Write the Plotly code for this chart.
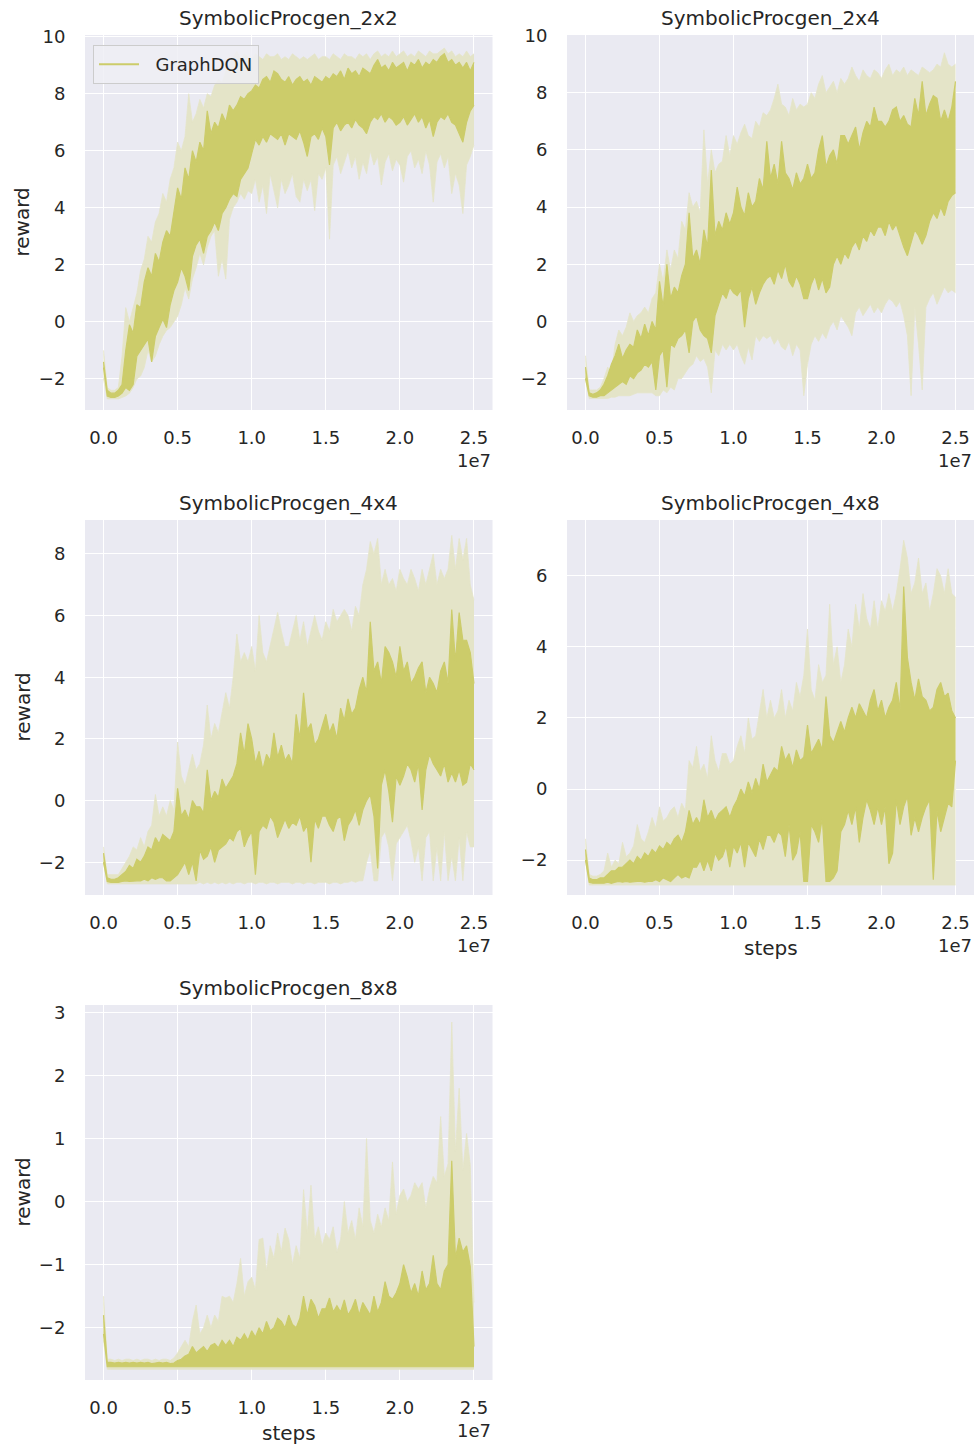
import plotly.graph_objects as go

# ---------------- data ----------------
# x sample grid: every 0.025e7 steps from 0 to 2.5e7
STEPS = [i * 250_000 for i in range(101)]

TITLES = ["SymbolicProcgen_2x2", "SymbolicProcgen_2x4", "SymbolicProcgen_4x4",
          "SymbolicProcgen_4x8", "SymbolicProcgen_8x8"]
SERIES_NAME = "GraphDQN"
X_TICKS = [0, 5e6, 1e7, 1.5e7, 2e7, 2.5e7]
X_TICKTEXT = ["0.0", "0.5", "1.0", "1.5", "2.0", "2.5"]
Y_TICKS = [[-2, 0, 2, 4, 6, 8, 10], [-2, 0, 2, 4, 6, 8, 10], [-2, 0, 2, 4, 6, 8],
           [-2, 0, 2, 4, 6], [-2, -1, 0, 1, 2, 3]]

# ---- SymbolicProcgen_2x2 ----
mean_hi_2x2 = [-1.4, -2.4, -2.5, -2.5, -2.4, -2.2, -1.0, -0.1, -0.4, 0.6,
               0.5, 1.4, 1.9, 1.6, 2.4, 2.1, 2.8, 3.2, 3.0, 3.9,
               4.7, 4.3, 5.4, 5.0, 6.0, 5.6, 6.3, 6.0, 7.4, 6.6,
               7.0, 6.8, 7.3, 7.0, 7.6, 7.4, 7.6, 7.9, 7.8, 8.0,
               8.1, 8.3, 8.2, 8.5, 8.6, 8.4, 8.8, 8.7, 8.5, 8.4,
               8.6, 8.3, 8.5, 8.6, 8.4, 8.5, 8.3, 8.6, 8.5, 8.4,
               8.6, 8.5, 8.7, 8.6, 8.8, 8.5, 8.9, 8.7, 8.8, 8.6,
               8.9, 8.8, 8.7, 9.0, 9.2, 8.9, 9.0, 8.8, 9.1, 8.9,
               9.0, 9.1, 8.8, 9.1, 9.0, 9.2, 8.9, 9.1, 9.0, 9.2,
               9.1, 9.3, 9.4, 9.1, 9.2, 9.0, 9.1, 8.9, 9.1, 8.8, 9.1]
mean_lo_2x2 = [-1.6, -2.6, -2.65, -2.65, -2.6, -2.5, -2.3, -2.4, -2.2, -1.2,
               -1.0, -0.8, -0.6, -1.4, -0.5, -0.2, 0.1, -0.2, 0.6, 1.1,
               1.4, 1.9, 1.6, 1.1, 2.3, 2.7, 2.9, 2.4, 3.0, 3.2,
               3.5, 3.2, 3.8, 4.0, 4.3, 4.5, 4.4, 5.0, 5.2, 5.4,
               5.9, 6.4, 6.2, 6.5, 6.3, 6.6, 6.5, 6.4, 6.6, 6.2,
               6.6, 6.5, 6.4, 6.7, 6.3, 5.8, 6.5, 6.6, 6.4, 6.8,
               6.5, 5.5, 6.8, 7.0, 6.7, 6.9, 7.0, 6.8, 7.1, 6.9,
               6.8, 6.6, 7.0, 7.2, 7.1, 7.3, 7.0, 7.2, 7.1, 6.9,
               7.0, 7.2, 6.9, 7.1, 7.3, 7.0, 7.2, 6.8, 7.1, 6.5,
               7.0, 7.2, 7.1, 7.3, 7.0, 6.9, 6.6, 6.3, 7.0, 7.4, 7.6]
band_hi_2x2 = [-1.0, -2.3, -2.4, -2.4, -2.3, -1.2, 0.5, 0.0, 0.5, 1.0,
               1.8, 2.2, 3.0, 2.8, 3.5, 3.8, 4.5, 4.2, 5.0, 5.4,
               6.3, 6.0, 6.5, 8.0, 7.0, 7.3, 7.8, 7.5, 8.0, 7.9,
               8.3, 8.5, 8.4, 8.8, 9.0, 9.3, 9.5, 9.2, 9.4, 9.3,
               9.2, 9.4, 9.3, 9.2, 9.4, 9.3, 9.3, 9.4, 9.2, 9.3,
               9.2, 9.4, 9.3, 9.2, 9.3, 9.2, 9.3, 9.4, 9.2, 9.3,
               9.3, 9.2, 9.4, 9.3, 9.2, 9.4, 9.3, 9.3, 9.2, 9.4,
               9.3, 9.4, 9.2, 9.4, 9.5, 9.3, 9.4, 9.3, 9.5, 9.3,
               9.4, 9.5, 9.3, 9.4, 9.3, 9.5, 9.4, 9.3, 9.5, 9.4,
               9.4, 9.5, 9.6, 9.4, 9.5, 9.3, 9.4, 9.3, 9.5, 9.3, 9.4]
band_lo_2x2 = [-2.0, -2.7, -2.7, -2.7, -2.7, -2.65, -2.6, -2.5, -2.3, -2.0,
               -1.9, -1.6, -1.0, -1.4, -1.2, -0.8, -0.5, -0.3, -0.2, 0.0,
               0.2, 0.6, 1.2, 0.8, 1.5, 1.9, 2.4, 2.0, 2.6, 3.0,
               3.2, 1.6, 2.2, 1.5, 3.6, 4.0, 4.2, 4.5, 4.3, 4.6,
               4.5, 5.0, 4.2, 4.8, 3.8, 5.2, 4.6, 4.0, 5.0, 4.5,
               4.8, 5.2, 4.4, 4.2, 5.0, 4.6, 5.0, 3.9, 5.2, 5.0,
               5.4, 2.9, 5.5, 5.8, 5.2, 5.6, 6.0, 5.4, 5.8, 5.0,
               5.6, 5.2, 6.0, 5.5, 5.8, 4.8, 5.6, 5.9, 5.3, 5.7,
               5.5, 4.9, 5.8, 6.0, 5.4, 5.7, 5.2, 6.0, 5.5, 4.2,
               5.6, 5.9, 5.4, 5.8, 4.5, 5.2, 4.8, 3.8, 5.5, 5.8, 6.2]

# ---- SymbolicProcgen_2x4 ----
mean_hi_2x4 = [-1.6, -2.5, -2.55, -2.5, -2.4, -2.2, -1.9, -1.5, -1.2, -0.8,
               -1.3, -1.0, -0.8, -0.9, -0.3, -0.6, -0.1, -0.5, 0.0, -0.3,
               1.4, 0.5, 2.0, 0.8, 1.2, 1.0, 1.6, 2.0, 3.8, 2.2,
               2.5, 2.0, 3.2, 2.6, 5.3, 3.0, 3.5, 3.2, 3.8, 3.4,
               3.8, 4.7, 4.0, 3.7, 4.5, 4.0, 4.2, 5.0, 4.6, 6.3,
               5.0, 5.5, 4.8, 6.3, 5.2, 5.0, 4.6, 5.2, 4.8, 5.0,
               5.5, 5.0, 5.2, 6.0, 6.5, 5.4, 5.8, 6.0, 5.5, 6.5,
               6.5, 6.2, 6.5, 6.8, 6.0, 6.6, 7.0, 6.8, 7.5, 7.0,
               7.0, 6.8, 7.0, 7.4, 7.5, 7.0, 7.2, 6.9, 6.8, 7.8,
               7.2, 8.4, 7.2, 7.6, 7.9, 7.8, 7.0, 7.4, 7.0, 7.5, 8.4]
mean_lo_2x4 = [-2.0, -2.6, -2.65, -2.65, -2.6, -2.6, -2.5, -2.4, -2.3, -2.2,
               -2.1, -2.2, -1.9, -2.0, -1.8, -1.7, -1.5, -1.6, -1.4, -2.4,
               -1.2, -1.0, -2.3, -0.8, -0.9, -0.6, -0.5, -0.3, -1.1, 0.0,
               0.2, -0.3, -0.5, -0.6, -1.1, 0.2, 0.6, 1.0, 0.8, 1.2,
               1.0, 0.9, 1.1, -0.2, 0.8, 1.2, 0.6, 1.0, 1.3, 1.5,
               1.6, 1.3, 1.8, 1.5, 2.0, 1.4, 1.2, 1.6, 1.3, 0.8,
               0.8, 1.3, 1.6, 1.1, 1.5, 1.0, 1.2, 2.0, 2.3, 2.0,
               2.4, 2.2, 2.6, 2.8, 2.5, 3.0, 2.8, 3.2, 3.0, 3.3,
               3.3, 3.0, 3.5, 3.2, 3.4, 3.0, 2.6, 2.3, 2.8, 3.2,
               3.0, 2.7, 3.0, 3.5, 3.8, 3.6, 4.0, 3.7, 4.2, 4.4, 4.5]
band_hi_2x4 = [-1.2, -2.4, -2.4, -2.4, -2.3, -2.0, -1.6, -1.8, -0.8, -0.3,
               -0.5, -0.2, 0.3, 0.0, 0.2, 0.3, 0.5, 0.3, 0.8, 1.0,
               2.0, 1.4, 2.5, 1.8, 2.5, 2.2, 3.5, 3.2, 4.5, 4.0,
               4.2, 3.8, 6.7, 4.8, 6.0, 5.2, 5.5, 5.6, 6.5, 5.8,
               6.5, 6.2, 6.6, 6.9, 6.5, 6.4, 7.0, 6.8, 7.3, 7.2,
               7.4, 7.8, 8.3, 7.6, 7.5, 7.2, 7.8, 7.4, 7.6, 7.5,
               7.6, 8.0, 7.8, 8.3, 8.6, 8.0, 8.2, 8.4, 8.0, 8.5,
               8.3, 8.5, 8.9, 8.6, 8.4, 8.8, 8.6, 8.5, 8.8, 8.7,
               8.5, 8.8, 9.0, 8.6, 8.8, 8.7, 8.9, 8.6, 8.8, 8.7,
               8.6, 8.9, 8.8, 8.7, 8.8, 9.0, 8.9, 9.4, 9.0, 8.9, 9.0]
band_lo_2x4 = [-2.0, -2.7, -2.7, -2.7, -2.7, -2.7, -2.7, -2.65, -2.65, -2.6,
               -2.6, -2.6, -2.6, -2.55, -2.5, -2.5, -2.5, -2.5, -2.5, -2.6,
               -2.6, -2.4, -2.5, -2.3, -2.4, -2.0, -2.0, -1.8, -1.6, -1.5,
               -1.2, -1.4, -1.3, -1.6, -2.5, -1.0, -1.2, -0.8, -1.0, -0.8,
               -1.0, -0.8, -1.2, -1.5, -0.9, -1.35, -0.5, -0.7, -0.5, -0.6,
               -0.5, -0.8, -0.6, -0.9, -1.0, -0.7, -1.2, -0.8, -1.0, -2.6,
               -1.5, -0.8, -0.5, -0.7, -0.4, -0.6, -0.2, 0.0, -0.3, 0.2,
               0.0, -0.2, -0.5, 0.3, 0.5, 0.2, 0.4, 0.6, 0.3, 0.5,
               0.3, 0.6, 0.8, 0.7, 0.5, 0.7, 0.2, -0.5, -2.6, 0.5,
               -0.8, -2.4, 0.5, 0.8, 1.0, 0.6, 0.9, 1.2, 1.0, 1.1, 1.0]

# ---- SymbolicProcgen_4x4 ----
mean_hi_4x4 = [-1.7, -2.5, -2.55, -2.55, -2.5, -2.4, -2.3, -2.1, -2.2, -1.9,
               -2.0, -1.8, -1.5, -1.6, -1.2, -1.4, -1.1, -1.2, -1.3, -1.0,
               0.4, -0.5, -0.3, -0.6, 0.0, -0.2, -0.2, -0.4, 1.0, 0.0,
               0.3, 0.1, 0.7, 0.4, 0.6, 0.8, 1.2, 2.2, 1.5, 2.5,
               2.0, 1.2, 1.6, 1.0, 1.5, 1.3, 2.2, 1.4, 1.8, 1.3,
               1.5, 1.2, 2.8, 2.0, 3.5, 2.3, 2.5, 1.8, 2.0, 2.4,
               2.8, 2.2, 2.5, 2.0, 3.0, 2.6, 3.3, 2.8, 3.0, 3.6,
               4.0, 3.5, 5.8, 4.2, 4.5, 3.8, 5.0, 4.8, 4.5, 4.0,
               5.0, 4.2, 4.5, 3.8, 4.0, 4.3, 4.5, 3.5, 4.0, 3.8,
               3.5, 4.2, 4.5, 3.8, 6.2, 4.5, 6.1, 5.2, 5.2, 4.8, 3.8]
mean_lo_4x4 = [-2.0, -2.62, -2.65, -2.65, -2.65, -2.62, -2.6, -2.62, -2.6, -2.6,
               -2.6, -2.55, -2.6, -2.5, -2.55, -2.5, -2.5, -2.6, -2.6, -2.5,
               -2.4, -2.2, -2.0, -2.4, -2.0, -2.6, -1.6, -1.9, -1.8, -1.5,
               -2.0, -1.6, -1.5, -1.4, -1.2, -1.3, -1.0, -0.9, -1.5, -1.2,
               -1.0, -2.4, -1.0, -0.8, -0.9, -0.5, -0.7, -1.2, -0.9, -0.6,
               -0.9, -0.7, -0.8, -0.5, -1.0, -0.8, -2.0, -0.6, -0.9, -0.5,
               -0.5, -0.8, -1.0, -0.6, -0.5, -1.3, -0.8, -0.6, -0.3, -0.8,
               -0.3, 0.0, 0.2, -0.5, -2.2, 0.5, 1.0, 0.3, -0.7, 0.8,
               0.5, 0.8, 1.2, 1.0, 0.6, 1.2, -0.3, 1.0, 1.5, 1.2,
               1.0, 0.8, 1.2, 0.6, 0.9, 0.6, 1.0, 0.5, 0.6, 1.2, 1.0]
band_hi_4x4 = [-1.5, -2.4, -2.4, -2.4, -2.4, -2.2, -2.0, -1.8, -1.5, -1.6,
               -1.2, -1.5, -1.0, -0.8, 0.2, -0.5, -0.2, -0.5, 0.0, -0.3,
               1.9, 0.8, 0.5, 1.0, 1.5, 1.0, 1.2, 1.8, 3.1, 2.0,
               2.5, 2.2, 2.8, 3.5, 3.0, 4.0, 5.4, 4.5, 4.8, 4.5,
               5.0, 4.2, 6.0, 4.8, 4.5, 5.0, 5.5, 6.1, 5.5, 5.0,
               5.0, 5.5, 6.0, 5.2, 5.8, 5.0, 5.5, 6.0, 5.5, 5.2,
               5.8, 5.5, 6.2, 5.8, 6.0, 6.2, 6.0, 5.5, 6.3, 6.0,
               7.0, 7.5, 8.4, 8.0, 8.5, 7.0, 7.5, 7.0, 7.2, 6.8,
               7.5, 7.2, 7.0, 7.5, 7.2, 6.8, 7.5, 7.0, 7.5, 8.0,
               7.0, 7.5, 7.2, 7.5, 8.6, 7.5, 8.5, 7.8, 8.5, 7.0, 6.5]
band_lo_4x4 = [-2.0, -2.7, -2.7, -2.7, -2.7, -2.7, -2.7, -2.7, -2.7, -2.7,
               -2.7, -2.7, -2.7, -2.7, -2.7, -2.7, -2.7, -2.7, -2.7, -2.7,
               -2.7, -2.7, -2.7, -2.7, -2.7, -2.7, -2.65, -2.7, -2.65, -2.7,
               -2.65, -2.7, -2.65, -2.7, -2.65, -2.7, -2.65, -2.65, -2.7, -2.65,
               -2.65, -2.7, -2.65, -2.65, -2.7, -2.65, -2.65, -2.7, -2.65, -2.65,
               -2.65, -2.7, -2.65, -2.65, -2.7, -2.65, -2.65, -2.7, -2.65, -2.65,
               -2.65, -2.7, -2.65, -2.65, -2.7, -2.65, -2.65, -2.6, -2.65, -2.6,
               -2.6, -2.0, -1.6, -2.6, -2.6, -1.2, -1.0, -1.5, -2.6, -1.4,
               -1.2, -1.0, -0.8, -1.3, -2.0, -1.5, -2.6, -1.2, -1.0, -2.6,
               -1.5, -2.6, -1.0, -2.6, -1.8, -2.6, -1.2, -2.6, -1.0, -1.5, -1.5]

# ---- SymbolicProcgen_4x8 ----
mean_hi_4x8 = [-1.7, -2.5, -2.55, -2.55, -2.5, -2.5, -2.4, -2.3, -2.3, -2.2,
               -2.2, -2.1, -2.0, -2.1, -1.9, -2.0, -1.8, -1.9, -1.7, -1.8,
               -1.6, -1.7, -1.5, -1.6, -1.4, -1.3, -1.5, -1.2, -0.6, -1.0,
               -0.8, -1.0, -0.3, -0.8, -0.6, -0.9, -0.7, -0.6, -0.5, -0.8,
               -0.5, -0.3, 0.0, -0.2, 0.2, -0.1, 0.3, 0.0, 0.7, 0.2,
               0.4, 0.6, 0.5, 1.2, 0.8, 1.0, 0.6, 1.1, 0.8, 0.9,
               1.8, 1.0, 1.2, 1.4, 1.1, 2.6, 1.5, 1.3, 1.6, 1.9,
               1.6, 2.0, 2.3, 2.0, 2.4, 2.2, 2.0, 2.5, 2.8, 2.2,
               2.5, 2.0, 2.3, 2.5, 3.0, 2.2, 5.7, 3.7, 3.0, 2.5,
               3.1, 2.6, 2.5, 2.2, 2.3, 2.8, 3.0, 2.6, 2.7, 2.2, 2.0]
mean_lo_4x8 = [-2.0, -2.62, -2.65, -2.65, -2.65, -2.65, -2.62, -2.65, -2.62, -2.6,
               -2.62, -2.6, -2.62, -2.6, -2.6, -2.6, -2.62, -2.6, -2.6, -2.55,
               -2.6, -2.5, -2.55, -2.6, -2.5, -2.4, -2.5, -2.45, -2.5, -2.2,
               -2.2, -2.0, -2.3, -2.0, -2.3, -1.8, -2.0, -1.9, -1.6, -2.2,
               -1.6, -1.8, -1.5, -2.2, -1.5, -1.7, -1.9, -1.4, -1.7, -1.3,
               -1.3, -1.5, -1.2, -1.3, -1.9, -1.0, -2.0, -1.8, -1.2, -2.6,
               -2.6, -1.0, -1.2, -1.5, -0.8, -2.6, -2.6, -2.5, -2.3, -1.2,
               -1.0, -0.6, -1.0, -0.5, -1.5, -0.8, -0.3, -0.6, -1.0, -0.5,
               -1.0, -0.5, -2.1, -1.8, -0.3, -1.0, -0.5, -0.2, -1.3, -0.8,
               -1.2, -0.8, -0.5, -0.3, -2.55, -0.6, -1.2, -0.8, -0.4, -0.5, 0.8]
band_hi_4x8 = [-1.4, -2.4, -2.45, -2.45, -2.4, -2.3, -1.8, -2.2, -2.0, -2.1,
               -1.5, -1.9, -1.8, -1.6, -1.0, -1.4, -1.5, -1.2, -0.8, -1.1,
               -0.5, -0.9, -0.8, -0.6, -0.5, -0.8, -0.4, -0.6, 0.8, 0.6,
               1.2, 0.5, 0.7, 0.3, 1.5, 0.8, 0.5, 1.0, 1.0, 0.7,
               0.8, 1.2, 1.5, 1.0, 2.0, 1.4, 1.5, 2.2, 2.8, 2.0,
               2.5, 2.0, 2.2, 2.8, 2.0, 2.5, 2.2, 3.0, 2.6, 3.2,
               4.5, 2.8, 2.5, 3.5, 3.0, 3.2, 5.2, 3.5, 4.0, 3.0,
               3.5, 4.5, 4.0, 5.2, 4.5, 5.5, 4.8, 4.5, 5.3, 4.5,
               5.3, 5.0, 5.5, 5.0, 5.5, 6.2, 7.0, 6.5, 5.5, 5.8,
               6.5, 5.5, 5.8, 5.0, 5.5, 6.2, 6.0, 5.5, 6.2, 5.5, 5.4]
band_lo_4x8 = [-2.0, -2.7, -2.7, -2.7, -2.7, -2.7, -2.7, -2.7, -2.7, -2.7,
               -2.7, -2.7, -2.7, -2.7, -2.7, -2.7, -2.7, -2.7, -2.7, -2.7,
               -2.7, -2.7, -2.7, -2.7, -2.7, -2.7, -2.7, -2.7, -2.7, -2.7,
               -2.7, -2.7, -2.7, -2.7, -2.7, -2.7, -2.7, -2.7, -2.7, -2.7,
               -2.7, -2.7, -2.7, -2.7, -2.7, -2.7, -2.7, -2.7, -2.7, -2.7,
               -2.7, -2.7, -2.7, -2.7, -2.7, -2.7, -2.7, -2.7, -2.7, -2.7,
               -2.7, -2.7, -2.7, -2.7, -2.7, -2.7, -2.7, -2.7, -2.7, -2.7,
               -2.7, -2.7, -2.7, -2.7, -2.7, -2.7, -2.7, -2.7, -2.7, -2.7,
               -2.7, -2.7, -2.7, -2.7, -2.7, -2.7, -2.7, -2.7, -2.7, -2.7,
               -2.7, -2.7, -2.7, -2.7, -2.7, -2.7, -2.7, -2.7, -2.7, -2.7, -2.7]

# ---- SymbolicProcgen_8x8 ----
mean_hi_8x8 = [-1.8, -2.55, -2.55, -2.56, -2.55, -2.56, -2.55, -2.56, -2.55, -2.56,
               -2.55, -2.56, -2.55, -2.57, -2.56, -2.55, -2.56, -2.55, -2.57, -2.56,
               -2.52, -2.5, -2.45, -2.42, -2.3, -2.4, -2.35, -2.3, -2.38, -2.28,
               -2.25, -2.32, -2.2, -2.28, -2.2, -2.3, -2.15, -2.2, -2.1, -2.2,
               -2.05, -2.15, -2.0, -2.1, -1.9, -2.05, -2.0, -1.85, -1.9, -2.0,
               -1.8, -1.95, -2.0, -1.85, -1.5, -1.8, -1.55, -1.65, -1.85, -1.7,
               -1.7, -1.53, -1.75, -1.65, -1.75, -1.56, -1.8, -1.7, -1.55, -1.8,
               -1.6, -1.7, -1.8, -1.5, -1.75, -1.6, -1.27, -1.5, -1.55, -1.45,
               -1.3, -1.0, -1.2, -1.45, -1.3, -1.5, -1.1, -1.4, -1.3, -0.85,
               -1.3, -1.4, -1.1, -1.0, 0.65, -0.9, -0.58, -0.8, -0.7, -1.03, -2.3]
mean_lo_8x8 = [-2.1, -2.62, -2.62, -2.62, -2.62, -2.62, -2.62, -2.62, -2.62, -2.62,
               -2.62, -2.62, -2.62, -2.62, -2.62, -2.62, -2.62, -2.62, -2.62, -2.62,
               -2.62, -2.62, -2.62, -2.62, -2.62, -2.62, -2.62, -2.62, -2.62, -2.62,
               -2.62, -2.62, -2.62, -2.62, -2.62, -2.62, -2.62, -2.62, -2.62, -2.62,
               -2.62, -2.62, -2.62, -2.62, -2.62, -2.62, -2.62, -2.62, -2.62, -2.62,
               -2.62, -2.62, -2.62, -2.62, -2.62, -2.62, -2.62, -2.62, -2.62, -2.62,
               -2.62, -2.62, -2.62, -2.62, -2.62, -2.62, -2.62, -2.62, -2.62, -2.62,
               -2.62, -2.62, -2.62, -2.62, -2.62, -2.62, -2.62, -2.62, -2.62, -2.62,
               -2.62, -2.62, -2.62, -2.62, -2.62, -2.62, -2.62, -2.62, -2.62, -2.62,
               -2.62, -2.62, -2.62, -2.62, -2.62, -2.62, -2.62, -2.62, -2.62, -2.62, -2.62]
band_hi_8x8 = [-1.5, -2.5, -2.5, -2.52, -2.5, -2.52, -2.5, -2.5, -2.52, -2.5,
               -2.52, -2.5, -2.5, -2.52, -2.5, -2.52, -2.5, -2.5, -2.52, -2.48,
               -2.4, -2.3, -2.2, -2.3, -1.9, -1.64, -2.1, -2.0, -1.8, -2.0,
               -1.8, -1.9, -1.5, -1.53, -1.5, -1.6, -1.3, -0.9, -1.5, -1.27,
               -1.2, -1.4, -0.6, -0.58, -1.1, -0.7, -0.9, -0.5, -0.8, -0.42,
               -0.6, -1.0, -0.7, -0.9, 0.19, -0.5, 0.26, -0.6, -0.4, -0.7,
               -0.5, -0.6, -0.4, -0.8, -0.6, 0.0, -0.5, -0.3, -0.6, -0.1,
               -0.4, 1.0, -0.3, -0.5, -0.2, -0.4, -0.1, -0.3, 0.63, -0.2,
               0.1, 0.2, 0.0, 0.1, 0.3, 0.2, 0.3, -0.1, 0.2, 0.4,
               0.3, 1.35, 0.4, 0.6, 2.85, 0.8, 1.8, 0.5, 1.08, 0.58, -1.6]
band_lo_8x8 = [-2.2, -2.66, -2.66, -2.66, -2.66, -2.66, -2.66, -2.66, -2.66, -2.66,
               -2.66, -2.66, -2.66, -2.66, -2.66, -2.66, -2.66, -2.66, -2.66, -2.66,
               -2.66, -2.66, -2.66, -2.66, -2.66, -2.66, -2.66, -2.66, -2.66, -2.66,
               -2.66, -2.66, -2.66, -2.66, -2.66, -2.66, -2.66, -2.66, -2.66, -2.66,
               -2.66, -2.66, -2.66, -2.66, -2.66, -2.66, -2.66, -2.66, -2.66, -2.66,
               -2.66, -2.66, -2.66, -2.66, -2.66, -2.66, -2.66, -2.66, -2.66, -2.66,
               -2.66, -2.66, -2.66, -2.66, -2.66, -2.66, -2.66, -2.66, -2.66, -2.66,
               -2.66, -2.66, -2.66, -2.66, -2.66, -2.66, -2.66, -2.66, -2.66, -2.66,
               -2.66, -2.66, -2.66, -2.66, -2.66, -2.66, -2.66, -2.66, -2.66, -2.66,
               -2.66, -2.66, -2.66, -2.66, -2.66, -2.66, -2.66, -2.66, -2.66, -2.66, -2.66]

MEAN_HI = [mean_hi_2x2, mean_hi_2x4, mean_hi_4x4, mean_hi_4x8, mean_hi_8x8]
MEAN_LO = [mean_lo_2x2, mean_lo_2x4, mean_lo_4x4, mean_lo_4x8, mean_lo_8x8]
BAND_HI = [band_hi_2x2, band_hi_2x4, band_hi_4x4, band_hi_4x8, band_hi_8x8]
BAND_LO = [band_lo_2x2, band_lo_2x4, band_lo_4x4, band_lo_4x8, band_lo_8x8]

# ---------------- layout / style ----------------
W, H = 978, 1448
FONT = "DejaVu Sans"
TXT = "#262626"
LINE_C = "rgb(204,204,106)"
BAND_C = "rgb(228,228,200)"
BG = "#EAEAF2"
TICK_SIZE = 18
LABEL_SIZE = 20

# pixel boxes of each axes: (left, right, top, bottom)
BOXES = [(85, 492.5, 35, 410), (567, 974, 35, 410), (85, 492.5, 520, 895),
         (567, 974, 520, 895), (85, 492.5, 1005, 1380)]
Y_RANGES = [[-3.09, 10.06], [-3.1, 10.02], [-3.06, 9.10], [-2.98, 7.57], [-2.83, 3.12]]
X_RANGE = [-0.125e7, 2.625e7]
SHOW_YLABEL = [True, False, True, False, True]
SHOW_XLABEL = [False, False, False, True, True]


def px(x):
    return x / W


def py(y):
    return 1 - y / H


fig = go.Figure()
annotations = []
layout = dict(width=W, height=H,
              margin=dict(l=0, r=0, t=0, b=0, pad=0, autoexpand=False),
              paper_bgcolor="white", plot_bgcolor=BG,
              font=dict(family=FONT, color=TXT, size=TICK_SIZE))

for k in range(5):
    sfx = "" if k == 0 else str(k + 1)
    xa, ya = "x" + sfx, "y" + sfx
    l, r, t, b = BOXES[k]
    common = dict(showline=False, zeroline=False, showgrid=True, gridcolor="white",
                  gridwidth=1.4, ticks="outside", tickcolor="rgba(0,0,0,0)",
                  automargin=False,
                  tickfont=dict(family=FONT, size=TICK_SIZE, color=TXT))
    layout["xaxis" + sfx] = dict(common, domain=[px(l), px(r)], range=X_RANGE,
                                 anchor=ya, tickvals=X_TICKS, ticktext=X_TICKTEXT,
                                 ticklen=11)
    layout["yaxis" + sfx] = dict(common, domain=[py(b), py(t)], range=Y_RANGES[k],
                                 anchor=xa, tickvals=Y_TICKS[k],
                                 ticktext=[str(v).replace("-", "\u2212") for v in Y_TICKS[k]],
                                 ticklen=15)

    # confidence band
    fig.add_trace(go.Scatter(x=STEPS, y=BAND_LO[k], xaxis=xa, yaxis=ya, mode="lines",
                             line=dict(width=0.8, color=BAND_C), showlegend=False,
                             hoverinfo="skip"))
    fig.add_trace(go.Scatter(x=STEPS, y=BAND_HI[k], xaxis=xa, yaxis=ya, mode="lines",
                             line=dict(width=0.8, color=BAND_C), fill="tonexty",
                             fillcolor=BAND_C, showlegend=False, hoverinfo="skip"))
    # dense mean line envelope
    fig.add_trace(go.Scatter(x=STEPS, y=MEAN_LO[k], xaxis=xa, yaxis=ya, mode="lines",
                             line=dict(width=1.2, color=LINE_C), showlegend=False,
                             hoverinfo="skip"))
    fig.add_trace(go.Scatter(x=STEPS, y=MEAN_HI[k], xaxis=xa, yaxis=ya, mode="lines",
                             line=dict(width=1.2, color=LINE_C), fill="tonexty",
                             fillcolor=LINE_C, showlegend=False, hoverinfo="skip"))

    cx = (l + r) / 2
    annotations.append(dict(text=TITLES[k], x=px(cx), y=py(t - 17), xref="paper",
                            yref="paper", showarrow=False, xanchor="center",
                            yanchor="middle", font=dict(family=FONT, size=LABEL_SIZE, color=TXT)))
    annotations.append(dict(text="1e7", x=px(r), y=py(b + 50), xref="paper",
                            yref="paper", showarrow=False, xanchor="right",
                            yanchor="middle", font=dict(family=FONT, size=TICK_SIZE, color=TXT)))
    if SHOW_YLABEL[k]:
        annotations.append(dict(text="reward", x=px(22), y=py((t + b) / 2), xref="paper",
                                yref="paper", showarrow=False, textangle=-90,
                                xanchor="center", yanchor="middle",
                                font=dict(family=FONT, size=LABEL_SIZE, color=TXT)))
    if SHOW_XLABEL[k]:
        annotations.append(dict(text="steps", x=px(cx), y=py(b + 53), xref="paper",
                                yref="paper", showarrow=False, xanchor="center",
                                yanchor="middle", font=dict(family=FONT, size=LABEL_SIZE, color=TXT)))

# legend entry (line sample) in the first panel
fig.add_trace(go.Scatter(x=[None], y=[None], xaxis="x", yaxis="y", mode="lines",
                         line=dict(width=2, color=LINE_C),
                         name="\u00a0\u00a0" + SERIES_NAME, showlegend=True))

layout["annotations"] = annotations
layout["showlegend"] = True
layout["legend"] = dict(x=px(93), y=py(45), xanchor="left", yanchor="top",
                        bgcolor="rgba(238,238,244,0.85)", bordercolor="#CCCCCC",
                        borderwidth=1, itemwidth=40, tracegroupgap=0,
                        font=dict(family=FONT, size=TICK_SIZE, color=TXT))
fig.update_layout(**layout)

# pin the graph to the page's top-left corner so the page is exactly W x H
POST_JS = ("document.documentElement.style.margin='0';"
           "document.body.style.margin='0';document.body.style.padding='0';"
           "document.body.style.overflow='hidden';"
           "var g=document.querySelector('.plotly-graph-div');"
           "g.style.position='fixed';g.style.left='0px';g.style.top='0px';")
fig.write_html("out.html", config={"displayModeBar": False}, post_script=POST_JS)
